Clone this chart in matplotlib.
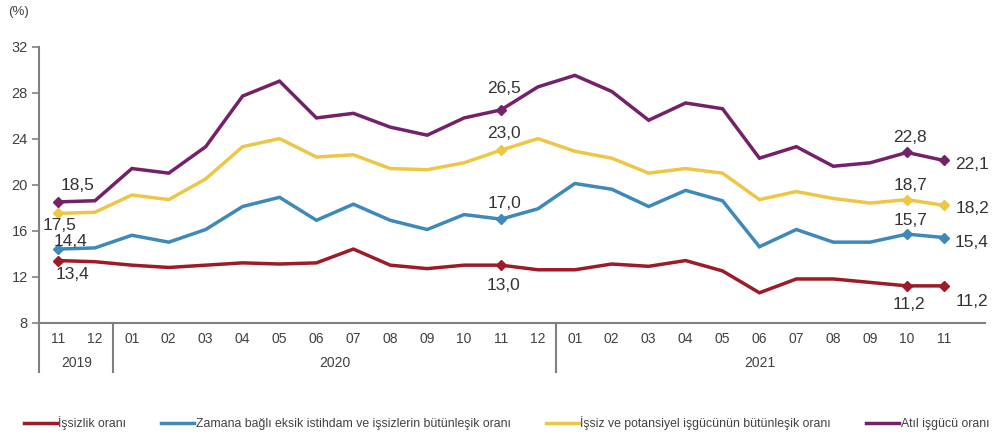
import matplotlib
matplotlib.use("Agg")
import matplotlib.pyplot as plt
from matplotlib.lines import Line2D

plt.rcParams['font.family'] = ['Liberation Sans', 'DejaVu Sans']

months = ["11", "12", "01", "02", "03", "04", "05", "06", "07", "08", "09", "10", "11", "12",
          "01", "02", "03", "04", "05", "06", "07", "08", "09", "10", "11"]
years = ["2019", "2020", "2021"]

issizlik = [13.4, 13.3, 13.0, 12.8, 13.0, 13.2, 13.1, 13.2, 14.4, 13.0, 12.7, 13.0, 13.0, 12.6,
            12.6, 13.1, 12.9, 13.4, 12.5, 10.6, 11.8, 11.8, 11.5, 11.2, 11.2]
zamana = [14.4, 14.5, 15.6, 15.0, 16.1, 18.1, 18.9, 16.9, 18.3, 16.9, 16.1, 17.4, 17.0, 17.9,
          20.1, 19.6, 18.1, 19.5, 18.6, 14.6, 16.1, 15.0, 15.0, 15.7, 15.4]
potansiyel = [17.5, 17.6, 19.1, 18.7, 20.5, 23.3, 24.0, 22.4, 22.6, 21.4, 21.3, 21.9, 23.0, 24.0,
              22.9, 22.3, 21.0, 21.4, 21.0, 18.7, 19.4, 18.8, 18.4, 18.7, 18.2]
atil = [18.5, 18.6, 21.4, 21.0, 23.3, 27.7, 29.0, 25.8, 26.2, 25.0, 24.3, 25.8, 26.5, 28.5,
        29.5, 28.1, 25.6, 27.1, 26.6, 22.3, 23.3, 21.6, 21.9, 22.8, 22.1]

names = ["İşsizlik oranı",
         "Zamana bağlı eksik istihdam ve işsizlerin bütünleşik oranı",
         "İşsiz ve potansiyel işgücünün bütünleşik oranı",
         "Atıl işgücü oranı"]
colors = ["#9e1a26", "#3e88ba", "#eec645", "#75216a"]
series = [issizlik, zamana, potansiyel, atil]
marked = [0, 12, 23, 24]

# label offsets in pixels (dx, dy) for marked points, per series
offsets = {
    0: [(14, -14), (2, -20), (2, -19), (28, -16)],
    1: [(12, 8), (3, 16), (3, 14), (28, -5)],
    2: [(2, -12), (3, 17), (3, 14), (28, -3)],
    3: [(20, 16), (3, 21), (3, 15), (28, -4)],
}

fig = plt.figure(figsize=(9.93, 4.41), dpi=100)
ax = fig.add_axes([0.0393, 0.2683, 0.953, 0.626])

x = list(range(len(months)))
for k, (vals, col, nm) in enumerate(zip(series, colors, names)):
    ax.plot(x, vals, color=col, lw=2.5, label=nm, solid_joinstyle='miter', zorder=3)
    ax.plot([x[i] for i in marked], [vals[i] for i in marked], ls='none', marker='D',
            ms=5, color=col, zorder=4)
    for j, i in enumerate(marked):
        dx, dy = offsets[k][j]
        ax.annotate(f"{vals[i]:.1f}".replace('.', ','), (x[i], vals[i]),
                    xytext=(dx, dy), textcoords='offset pixels',
                    ha='center', va='center', fontsize=12.5, color='#333333', zorder=5)

ax.set_ylim(8, 32)
ax.set_yticks(range(8, 33, 4))
ax.set_xlim(-0.515, 25.12)
ax.set_xticks(x)
ax.set_xticklabels(months)
ax.tick_params(axis='x', length=0, pad=7, labelsize=10, labelcolor='#404040')
ax.tick_params(axis='y', length=5, width=1.2, color='#808080', labelsize=10.5,
               labelcolor='#404040', pad=3)
for s in ['top', 'right']:
    ax.spines[s].set_visible(False)
for s in ['left', 'bottom']:
    ax.spines[s].set_color('#808080')
    ax.spines[s].set_linewidth(1.5)

# separators and extended left axis below the plot
trans = ax.get_xaxis_transform()
for xv in [-0.515, 1.5, 13.5]:
    ax.add_line(Line2D([xv, xv], [0, -0.178], transform=trans, color='#808080',
                       lw=1.5, clip_on=False))

# year labels
for xc, yr in zip([0.5, 7.5, 19.0], years):
    ax.text(xc, -0.145, yr, transform=trans, ha='center', va='center', fontsize=10,
            color='#404040')

fig.text(0.008, 0.972, "(%)", fontsize=9.5, color='#404040', ha='left', va='center')

fig.legend(loc='center', bbox_to_anchor=(0.51, 0.041), ncol=4, frameon=False,
           fontsize=8.8, handlelength=2.7, handletextpad=0.1, columnspacing=2.9,
           labelcolor='#404040')

fig.savefig("out.png", dpi=100)
